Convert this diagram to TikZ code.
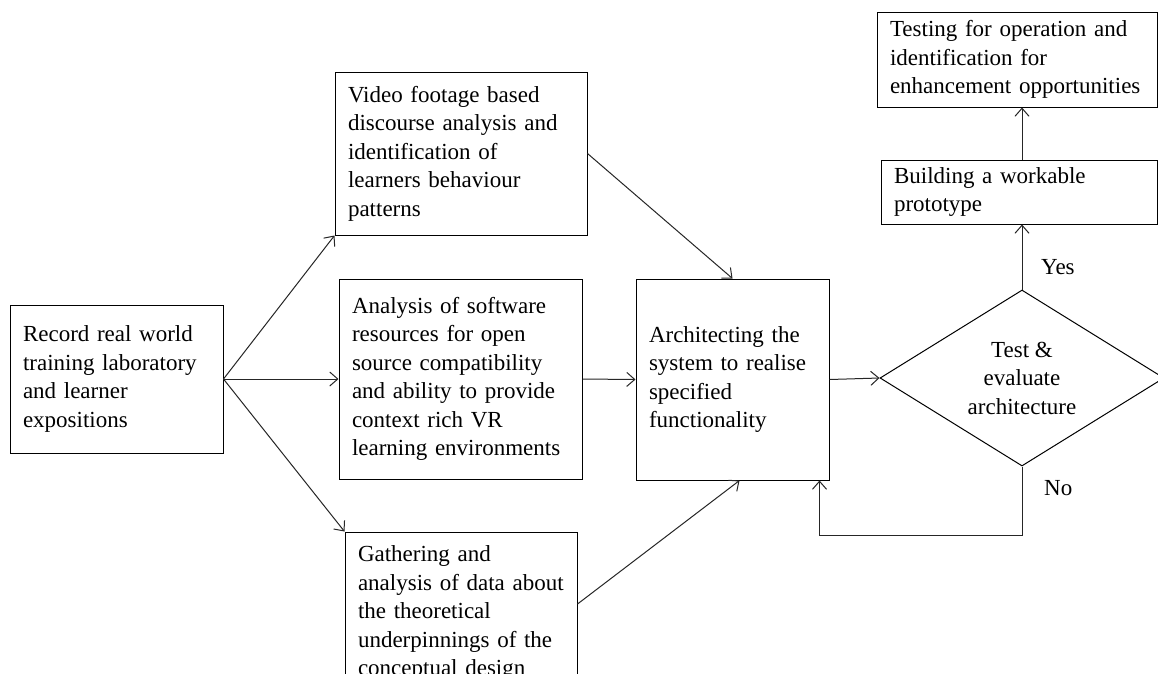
\documentclass[tikz,border=0pt]{standalone}
\usepackage{fontspec}
\setmainfont{Liberation Serif}
\usetikzlibrary{shapes.geometric,arrows.meta,calc}

\begin{document}
\begin{tikzpicture}[x=1pt,y=-1pt,
  every node/.style={font=\fontsize{23}{28.5}\selectfont},
  stepbox/.style={draw=black, line width=1pt, rectangle, align=left,
    inner xsep=13pt, inner ysep=0pt, anchor=center},
  decision/.style={draw=black, line width=1pt, diamond, shape aspect=1.6,
    minimum width=284pt, minimum height=176pt, inner sep=0pt, align=center},
  arr/.style={draw=black!85, line width=1pt,
    -{Straight Barb[length=8pt,width=14pt,line width=1pt]}},
  lbl/.style={inner sep=0pt}]

\useasboundingbox (0,0) rectangle (1158,673);
\clip (0,0) rectangle (1158,673);
\fill[white] (0,0) rectangle (1158,673);

% first stage
\node[stepbox, text width=187pt, minimum height=148pt] (rec) at (116.5,379)
  {Record real world\\ training laboratory\\ and learner\\ expositions};

% three parallel analyses
\node[stepbox, text width=226pt, minimum height=163pt] (vid) at (461,153.5)
  {Video footage based\\ discourse analysis and\\ identification of\\ learners behaviour\\ patterns};
\node[stepbox, text width=217pt, minimum height=200pt] (soft) at (460.5,379)
  {Analysis of software\\ resources for open\\ source compatibility\\ and ability to provide\\ context rich VR\\ learning environments};
\node[stepbox, text width=206pt, minimum height=162pt] (gath) at (461,613)
  {Gathering and\\ analysis of data about\\ the theoretical\\ underpinnings of the\\ conceptual design};

% architecture
\node[stepbox, text width=167pt, minimum height=201pt] (arch) at (732.5,379.5)
  {Architecting the\\ system to realise\\ specified\\ functionality};

% evaluation decision
\node[decision] (test) at (1022,378) {Test \&\\ evaluate\\ architecture};

% prototype and final testing
\node[stepbox, text width=250pt, minimum height=64pt] (proto) at (1019,192)
  {Building a workable\\ prototype};
\node[stepbox, text width=254pt, minimum height=95pt] (final) at (1017,59.5)
  {Testing for operation and\\ identification for\\ enhancement opportunities};

% connectors from the recording stage
\draw[arr] (rec.east) -- (vid.south west);
\draw[arr] (rec.east) -- (soft.west);
\draw[arr] (rec.east) -- (gath.north west);

% analyses feed the architecture
\draw[arr] (vid.east) -- (arch.north);
\draw[arr] (soft.east) -- (arch.west);
\draw[arr] ($(gath.east)+(0,-9)$) -- ($(arch.south)+(7,0)$);

% into the decision and out of it
\draw[arr] (arch.east) -- (test.west);
\draw[arr] (test.south) -- ($(test.south)+(0,69)$) -| ($(arch.south east)+(-10,0)$);
\draw[arr] (test.north) -- (test.north |- proto.south);
\draw[arr] (proto.north -| test.north) -- (test.north |- final.south);

\node[lbl, anchor=west] (yes) at (1041,267) {Yes};
\node[lbl, anchor=west] (no) at (1044,488) {No};

\end{tikzpicture}
\end{document}
